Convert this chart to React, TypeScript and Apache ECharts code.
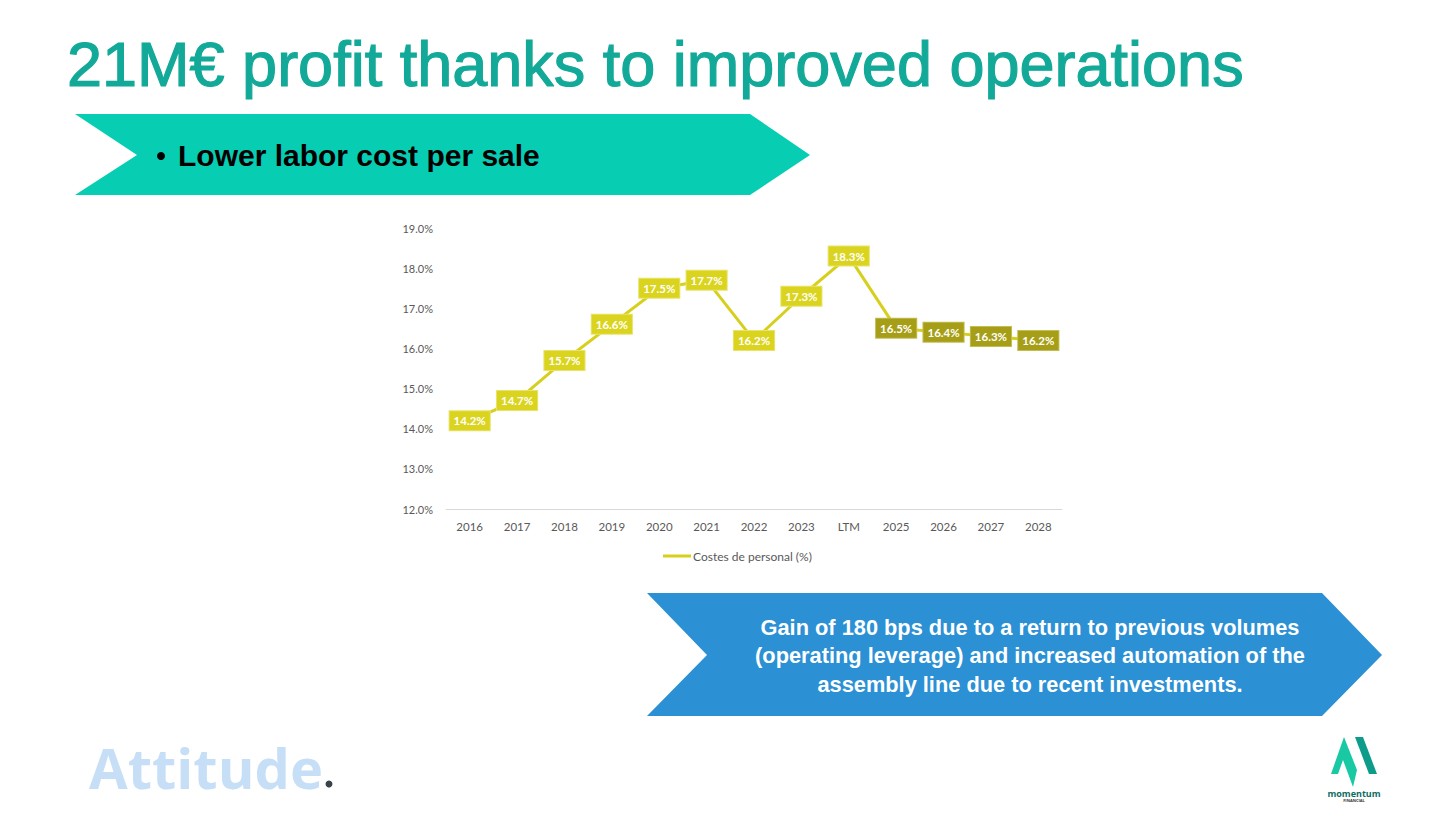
import React, { useEffect, useRef } from "react";
import * as echarts from "echarts";

const categories = ["2016", "2017", "2018", "2019", "2020", "2021", "2022", "2023", "LTM", "2025", "2026", "2027", "2028"];
const laborCost = [14.2, 14.7, 15.7, 16.6, 17.5, 17.7, 16.2, 17.3, 18.3, 16.5, 16.4, 16.3, 16.2];
const forecastFlags = [false, false, false, false, false, false, false, false, false, true, true, true, true];
const seriesName = "Costes de personal (%)";
const yMin = 12;
const yMax = 19;
const yStep = 1;

const title = "21M€ profit thanks to improved operations";
const bulletText = "Lower labor cost per sale";
const noteLines = [
  "Gain of 180 bps due to a return to previous volumes",
  "(operating leverage) and increased automation of the",
  "assembly line due to recent investments.",
];

const LINE = "#d6d01c";
const LABEL_HIST = "#dbd41f";
const LABEL_FC = "#a59e16";

export default function App() {
  const ref = useRef<HTMLDivElement>(null);
  useEffect(() => {
    if (!ref.current) return;
    const chart = echarts.init(ref.current, undefined, { renderer: "svg" });
    const data = laborCost.map((v, i) => ({
      value: v,
      label: forecastFlags[i]
        ? { backgroundColor: LABEL_FC, borderColor: "#c4bd55" }
        : { backgroundColor: LABEL_HIST, borderColor: "#e9e36e" },
    }));
    const noteGraphics = noteLines.map((t, i) => ({
      type: "text",
      z: 10,
      style: {
        text: t,
        x: 1030,
        y: 627 + i * 28.5,
        fill: "#ffffff",
        font: 'bold 21.8px "Liberation Sans", Arial, sans-serif',
        textAlign: "center",
        textVerticalAlign: "middle",
        align: "center",
        verticalAlign: "middle",
      },
    }));
    chart.setOption({
      animation: false,
      backgroundColor: "#ffffff",
      textStyle: { fontFamily: "Lato, sans-serif" },
      grid: { left: 446, right: 394, top: 228, bottom: 310, containLabel: false },
      legend: {
        left: 658,
        top: 545,
        itemWidth: 28,
        itemHeight: 3,
        itemGap: 10,
        data: [{ name: seriesName, icon: "rect" }],
        textStyle: { color: "#595959", fontSize: 12, fontFamily: "Lato, sans-serif", padding: [0, 0, 0, -3] },
      },
      xAxis: {
        type: "category",
        data: categories,
        boundaryGap: true,
        axisLine: { show: true, lineStyle: { color: "#d9d9d9", width: 1 } },
        axisTick: { show: false },
        axisLabel: { color: "#595959", fontSize: 11.5, margin: 11, fontFamily: "Lato, sans-serif" },
      },
      yAxis: {
        type: "value",
        min: yMin,
        max: yMax,
        interval: yStep,
        axisLine: { show: false },
        axisTick: { show: false },
        splitLine: { show: false },
        axisLabel: {
          color: "#595959",
          fontSize: 11,
          margin: 13,
          fontFamily: "Lato, sans-serif",
          formatter: (v: number) => v.toFixed(1) + "%",
        },
      },
      series: [
        {
          name: seriesName,
          type: "line",
          data,
          symbol: "circle",
          symbolSize: 2,
          showSymbol: true,
          itemStyle: { color: LINE },
          lineStyle: { color: LINE, width: 3 },
          label: {
            show: true,
            position: "inside",
            color: "#ffffff",
            fontWeight: "bold",
            fontSize: 11.5,
            fontFamily: "Lato, sans-serif",
            lineHeight: 13,
            padding: [3, 4, 3, 4],
            borderWidth: 1,
            formatter: (p: any) => p.value.toFixed(1) + "%",
          },
          z: 3,
        },
      ],
      graphic: [
        {
          type: "text",
          style: {
            text: title,
            x: 67,
            y: 64,
            fill: "#12a998",
            stroke: "#12a998",
            lineWidth: 1.2,
            font: '63px "Liberation Sans", Arial, sans-serif',
            textAlign: "left",
            textVerticalAlign: "middle",
            align: "left",
            verticalAlign: "middle",
          },
        },
        {
          type: "polygon",
          shape: {
            points: [
              [75, 114],
              [750, 114],
              [810, 155],
              [750, 195],
              [75, 195],
              [137, 155],
            ],
          },
          style: { fill: "#07cdb3" },
        },
        {
          type: "circle",
          shape: { cx: 161, cy: 156, r: 4 },
          style: { fill: "#000000" },
          z: 10,
        },
        {
          type: "text",
          z: 10,
          style: {
            text: bulletText,
            x: 178,
            y: 155,
            fill: "#000000",
            font: 'bold 30px "Liberation Sans", Arial, sans-serif',
            textAlign: "left",
            textVerticalAlign: "middle",
            align: "left",
            verticalAlign: "middle",
          },
        },
        {
          type: "polygon",
          shape: {
            points: [
              [647, 593],
              [1322, 593],
              [1382, 655],
              [1322, 716],
              [647, 716],
              [707, 655],
            ],
          },
          style: { fill: "#2b90d4" },
        },
        ...noteGraphics,
        {
          type: "text",
          style: {
            text: "Attitude",
            x: 89,
            y: 767,
            fill: "#c6dff7",
            font: 'bold 56px "Open Sans", sans-serif',
            textAlign: "left",
            textVerticalAlign: "middle",
            align: "left",
            verticalAlign: "middle",
          },
        },
        {
          type: "circle",
          shape: { cx: 329, cy: 784, r: 3.5 },
          style: { fill: "#38444b" },
        },
        {
          type: "polygon",
          shape: {
            points: [
              [1331, 774],
              [1344, 737],
              [1357, 770],
              [1353, 787],
              [1343, 760],
              [1338, 774],
            ],
          },
          style: { fill: "#19c9a4" },
        },
        {
          type: "polygon",
          shape: {
            points: [
              [1355, 737],
              [1363, 737],
              [1377, 774],
              [1369, 774],
            ],
          },
          style: { fill: "#0e9c8a" },
        },
        {
          type: "text",
          style: {
            text: "momentum",
            x: 1354,
            y: 793,
            fill: "#0d6d62",
            font: 'bold 9px "Open Sans", sans-serif',
            textAlign: "center",
            textVerticalAlign: "middle",
            align: "center",
            verticalAlign: "middle",
          },
        },
        {
          type: "text",
          style: {
            text: "FINANCIAL",
            x: 1354,
            y: 800,
            fill: "#333333",
            font: 'bold 4px "Open Sans", sans-serif',
            textAlign: "center",
            textVerticalAlign: "middle",
            align: "center",
            verticalAlign: "middle",
          },
        },
      ],
    });
    return () => chart.dispose();
  }, []);
  return (
    <div
      ref={ref}
      style={{ position: "fixed", left: 0, top: 0, width: 1456, height: 819, background: "#ffffff" }}
    />
  );
}
